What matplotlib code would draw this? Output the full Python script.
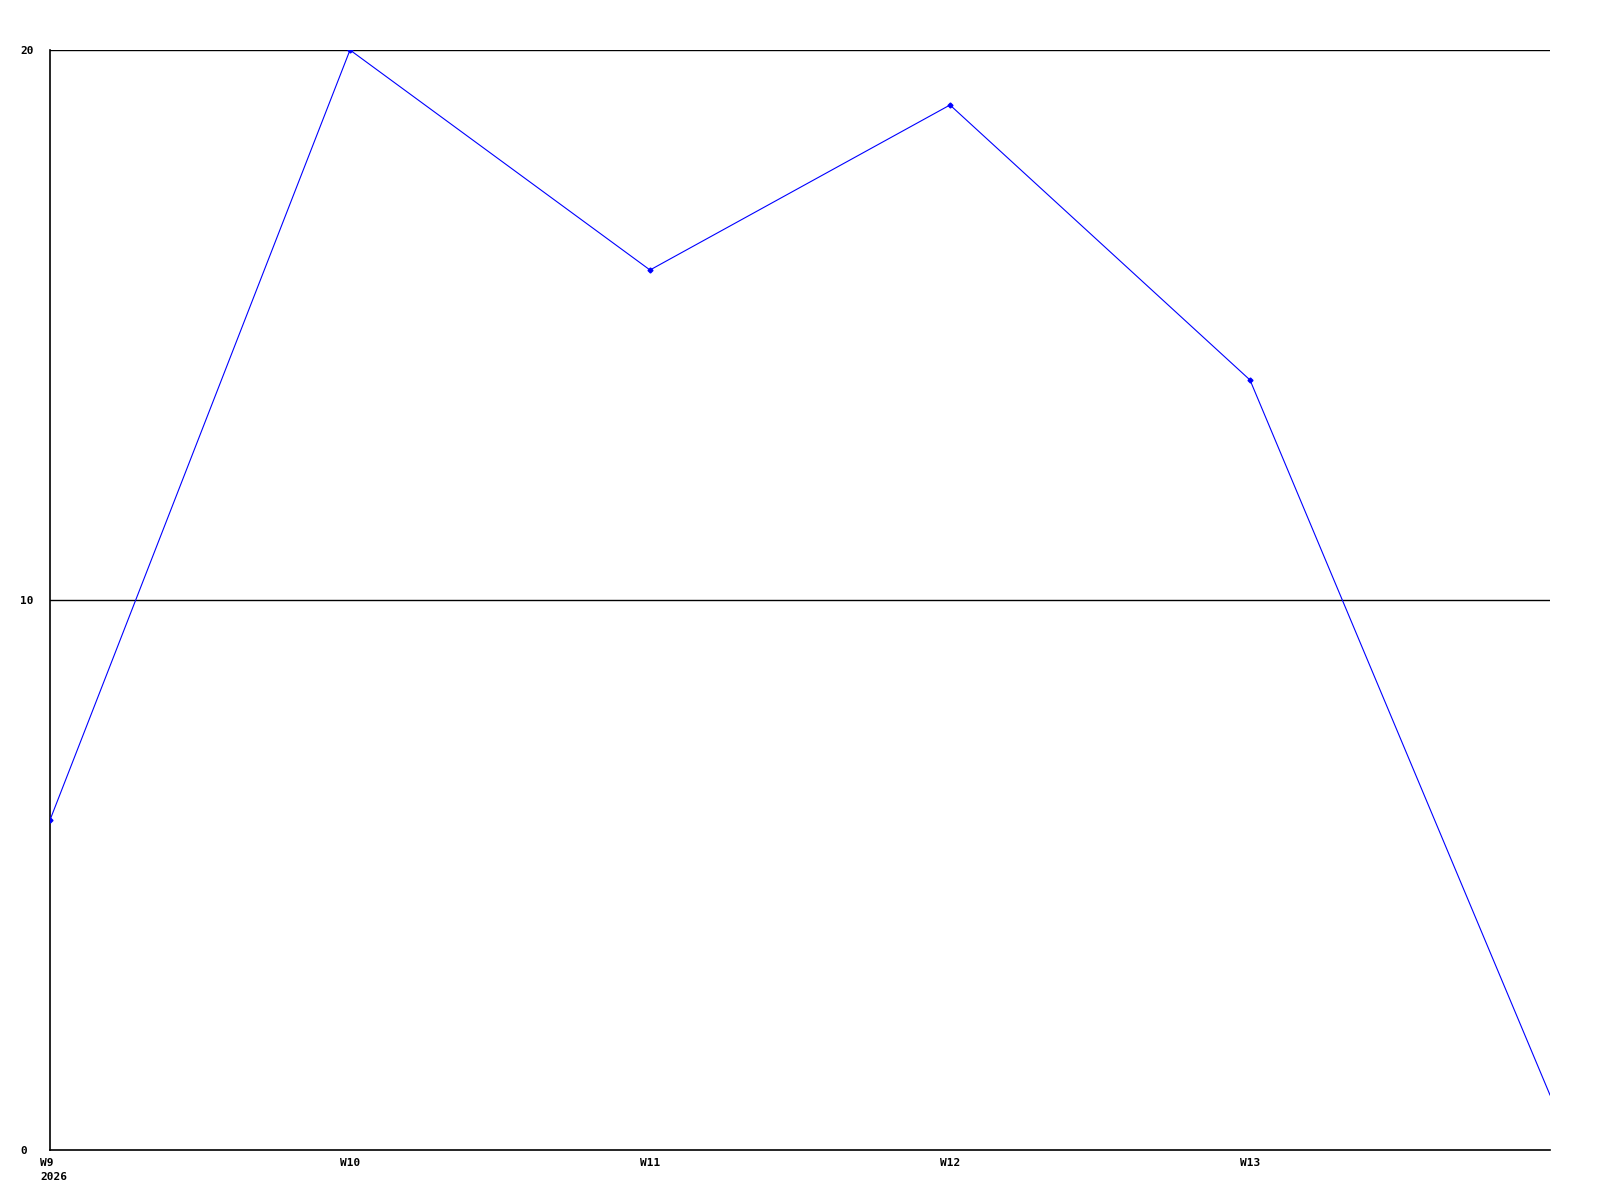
import matplotlib
matplotlib.use("Agg")
import matplotlib.pyplot as plt
from matplotlib.transforms import ScaledTranslation

weeks = ["W9\n2026", "W10", "W11", "W12", "W13"]
values = [6, 20, 16, 19, 14, 1]
y_ticks = [0, 10, 20]

fig = plt.figure(figsize=(16, 12), dpi=100)
ax = fig.add_axes([50/1600, 50/1200, 1500/1600, 1100/1200])

xs = list(range(len(values)))
ax.plot(xs, values, color="#0000ff", linewidth=0.8, marker="D", markersize=2.5,
        markevery=list(range(len(weeks))), zorder=3)

ax.set_xlim(0, len(values) - 1)
ax.set_ylim(0, 20)
for y in y_ticks[1:]:
    ax.axhline(y, color="black", linewidth=1, zorder=1)

ax.spines["top"].set_visible(False)
ax.spines["right"].set_visible(False)
ax.spines["left"].set_linewidth(1.2)
ax.spines["bottom"].set_linewidth(1.2)

font = dict(family="DejaVu Sans Mono", weight="bold", size=8)
ax.set_xticks(range(len(weeks)))
ax.set_xticklabels(weeks, ha="left", linespacing=1.5, **font)
ax.set_yticks(y_ticks)
ax.set_yticklabels([str(v) for v in y_ticks], ha="left", **font)
ax.tick_params(axis="both", length=0)
ax.tick_params(axis="x", pad=6)
ax.tick_params(axis="y", pad=21.3)
offset = ScaledTranslation(-10/100, 0, fig.dpi_scale_trans)
for lbl in ax.get_xticklabels():
    lbl.set_transform(lbl.get_transform() + offset)

fig.savefig("out.png", dpi=100, facecolor="white")
